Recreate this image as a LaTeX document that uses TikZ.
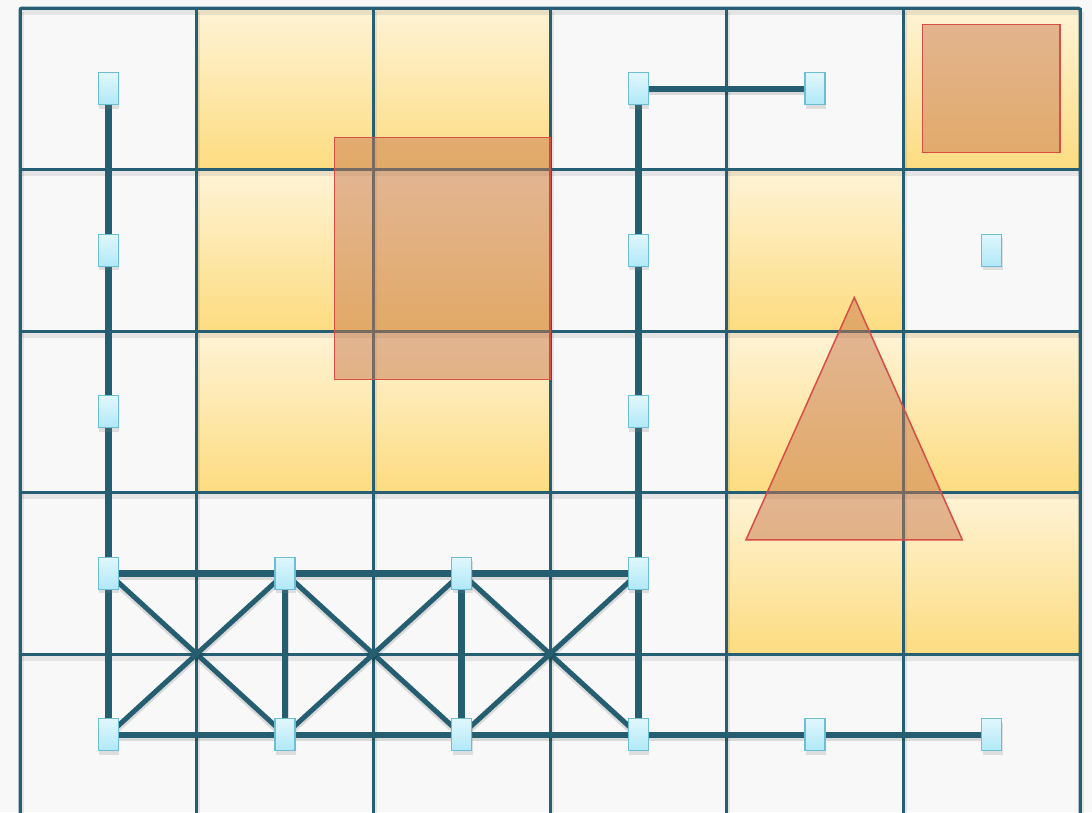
\documentclass[tikz,border=0pt]{standalone}
\usetikzlibrary{shadows}
\pgfdeclarelayer{back}
\pgfdeclarelayer{edges}
\pgfsetlayers{back,edges,main}
\definecolor{bgc}{RGB}{248,248,248}
\definecolor{gridc}{RGB}{38,95,115}
\definecolor{edgec}{RGB}{36,94,112}
\definecolor{celltop}{RGB}{254,243,214}
\definecolor{cellbot}{RGB}{253,220,128}
\definecolor{ptop}{RGB}{224,247,253}
\definecolor{pbot}{RGB}{176,232,248}
\definecolor{pdraw}{RGB}{108,190,214}
\definecolor{shapefill}{RGB}{200,120,80}
\definecolor{shapedraw}{RGB}{214,78,70}
\tikzset{
  pt/.style={rectangle, minimum width=20pt, minimum height=32pt, inner sep=0pt,
    draw=pdraw, line width=1.2pt, top color=ptop, bottom color=pbot,
    drop shadow={opacity=.22, shadow xshift=1pt, shadow yshift=-4pt}},
  gridline/.style={draw=gridc, line width=3pt},
  gridshadow/.style={draw=black, opacity=.08, line width=5pt},
  edge/.style={draw=edgec, line width=6.5pt},
  diag/.style={draw=edgec, line width=5pt},
  edgeshadow/.style={draw=black, opacity=.12, line width=7pt},
  hl/.style={top color=celltop, bottom color=cellbot},
  obst/.style={fill=shapefill, fill opacity=.5, draw=shapedraw, line width=1.5pt, line join=miter}
}
\begin{document}
\begin{tikzpicture}[x=1pt,y=-1pt]
\useasboundingbox (0,0) rectangle (1092,812);
% nodes
\foreach \c/\r in {0/0,0/1,0/2,0/3,0/4,1/3,1/4,2/3,2/4,3/0,3/1,3/2,3/3,3/4,4/0,4/4,5/1,5/4}
  \node[pt] (n\c\r) at ({20+176.667*(\c+0.5)},{8+161.5*(\r+0.5)}) {};
% background, cells, grid, obstacles
\begin{pgfonlayer}{back}
  \fill[bgc] (0,0) rectangle (1092,812);
  \foreach \c/\r in {1/0,2/0,5/0,1/1,2/1,4/1,1/2,2/2,4/2,5/2,4/3,5/3}
    \shade[hl] ({20+176.667*\c},{8+161.5*\r}) rectangle +(176.667,161.5);
  \foreach \i in {0,...,6} {
    \draw[gridshadow] ({20+176.667*\i+1},12) -- ({20+176.667*\i+1},820);
  }
  \foreach \j in {0,...,5} {
    \draw[gridshadow] (20,{8+161.5*\j+4}) -- (1082,{8+161.5*\j+4});
  }
  \foreach \i in {0,...,6} {
    \draw[gridline] ({20+176.667*\i},8) -- ({20+176.667*\i},820);
  }
  \foreach \j in {0,...,5} {
    \draw[gridline] (20,{8+161.5*\j}) -- (1080,{8+161.5*\j});
  }
  \draw[gridline, rounded corners=2pt] (20,820) -- (20,8) -- (1080,8) -- (1080,820);
  \path[obst] (334.5,137.5) rectangle (550.5,379.5);
  \path[obst] (922.5,24.5) rectangle (1060,152.5);
  \path[obst] (854.3,297.5) -- (962.3,539.8) -- (746,539.8) -- cycle;
\end{pgfonlayer}
% connectors
\begin{pgfonlayer}{edges}
  \foreach \a/\b in {00/04,30/34,30/40,03/33,04/54,13/14,23/24} {
    \draw[edgeshadow] ([yshift=-3pt]n\a.center) -- ([yshift=-3pt]n\b.center);
    \draw[edge] (n\a.center) -- (n\b.center);
  }
  \foreach \a/\b in {03/14,13/04,13/24,23/14,23/34,33/24} {
    \draw[edgeshadow, line width=5.5pt] ([yshift=-3pt]n\a.center) -- ([yshift=-3pt]n\b.center);
    \draw[diag] (n\a.center) -- (n\b.center);
  }
\end{pgfonlayer}
\end{tikzpicture}
\end{document}
